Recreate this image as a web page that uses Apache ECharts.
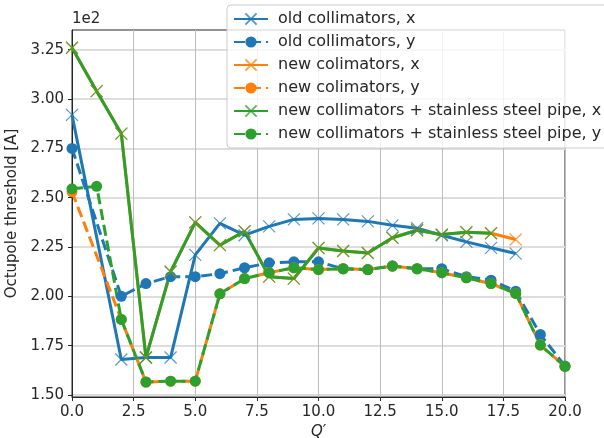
<!DOCTYPE html>
<html>
<head>
<meta charset="utf-8">
<script src="https://cdn.jsdelivr.net/npm/echarts@6/dist/echarts.min.js"></script>
<style>
  html, body { margin: 0; padding: 0; background: #fff; }
  #chart { width: 604px; height: 438px; }
</style>
</head>
<body>
<div id="chart"></div>
<script>
// Octupole threshold (units of 1e2 A) versus chromaticity Q'
const qOld = [0, 2, 3, 4, 5, 6, 7, 8, 9, 10, 11, 12, 13, 14, 15, 16, 17, 18];
const oldCollX = [2.92, 1.68, 1.69, 1.69, 2.21, 2.37, 2.31, 2.355, 2.39, 2.395, 2.39, 2.38, 2.36, 2.345, 2.31, 2.276, 2.246, 2.217];

const qOldY = [0, 2, 3, 4, 5, 6, 7, 8, 9, 10, 11, 12, 13, 14, 15, 16, 17, 18, 19, 20];
const oldCollY = [2.75, 2.00, 2.065, 2.10, 2.10, 2.115, 2.145, 2.17, 2.175, 2.175, 2.14, 2.135, 2.155, 2.14, 2.14, 2.10, 2.082, 2.026, 1.807, 1.647];

const qNewX = [0, 1, 2, 3, 4, 5, 6, 7, 8, 9, 10, 11, 12, 13, 14, 15, 16, 17, 18];
const newCollX = [3.26, 3.04, 2.825, 1.69, 2.125, 2.375, 2.26, 2.33, 2.10, 2.09, 2.245, 2.23, 2.22, 2.297, 2.335, 2.313, 2.325, 2.32, 2.288];

const qNewY = [0, 2, 3, 4, 5, 6, 7, 8, 9, 10, 11, 12, 13, 14, 15, 16, 17, 18, 19, 20];
const newCollY = [2.53, 1.883, 1.566, 1.57, 1.57, 2.013, 2.09, 2.12, 2.145, 2.136, 2.14, 2.136, 2.153, 2.14, 2.12, 2.094, 2.065, 2.015, 1.753, 1.645];

const qSteelX = [0, 1, 2, 3, 4, 5, 6, 7, 8, 9, 10, 11, 12, 13, 14, 15, 16, 17];
const steelX = [3.26, 3.04, 2.825, 1.69, 2.125, 2.375, 2.26, 2.33, 2.10, 2.09, 2.245, 2.23, 2.22, 2.297, 2.335, 2.313, 2.325, 2.32];

const qSteelY = [0, 1, 2, 3, 4, 5, 6, 7, 8, 9, 10, 11, 12, 13, 14, 15, 16, 17, 18, 19, 20];
const steelY = [2.545, 2.558, 1.883, 1.566, 1.57, 1.57, 2.013, 2.09, 2.12, 2.145, 2.136, 2.14, 2.136, 2.153, 2.14, 2.12, 2.094, 2.065, 2.015, 1.753, 1.645];

const yTicks = [1.50, 1.75, 2.00, 2.25, 2.50, 2.75, 3.00, 3.25];

const C_BLUE = '#1f77b4', C_ORANGE = '#ff7f0e', C_GREEN = '#2ca02c';
const FONT = 'DejaVu Sans';
const CROSS = 'path://M0,0L10,10M10,0L0,10';

function pairs(xs, ys) { return xs.map((x, i) => [x, ys[i]]); }

function makeSeries(name, xs, ys, color, kind) {
  const isX = kind === 'x';
  return {
    name: name,
    type: 'line',
    data: pairs(xs, ys),
    symbol: isX ? CROSS : 'circle',
    symbolSize: isX ? 12 : 11,
    showAllSymbol: true,
    lineStyle: { color: color, width: 3, type: isX ? 'solid' : [11, 5] },
    itemStyle: isX
      ? { color: color, borderColor: color, borderWidth: 1.2, opacity: 0.75 }
      : { color: color, borderWidth: 0 },
    emphasis: { disabled: true },
    animation: false,
    z: 2
  };
}

const chart = echarts.init(document.getElementById('chart'), null, { renderer: 'canvas' });

chart.setOption({
  backgroundColor: '#ffffff',
  animation: false,
  textStyle: { fontFamily: FONT },
  grid: {
    left: 72, right: 39, top: 30, bottom: 41,
    outerBoundsMode: 'none', containLabel: false,
    show: true, borderColor: '#262626', borderWidth: 1, backgroundColor: 'transparent'
  },
  xAxis: {
    type: 'value', min: 0, max: 20, interval: 2.5,
    name: "Q\u2032", nameLocation: 'middle', nameGap: 28,
    nameTextStyle: { fontFamily: FONT, fontSize: 15, fontStyle: 'italic', color: '#262626' },
    axisLine: { show: true, lineStyle: { color: '#262626', width: 1 } },
    axisTick: { show: true, length: 4, lineStyle: { color: '#262626' } },
    axisLabel: { fontFamily: FONT, fontSize: 15, color: '#262626', margin: 8,
      formatter: v => v.toFixed(1) },
    splitLine: { show: true, lineStyle: { color: '#bdbdbd', width: 1 } }
  },
  yAxis: {
    type: 'value', min: 1.49, max: 3.35,
    name: 'Octupole threshold [A]', nameLocation: 'middle', nameGap: 42,
    nameTextStyle: { fontFamily: FONT, fontSize: 15, color: '#262626' },
    axisLine: { show: true, lineStyle: { color: '#262626', width: 1 } },
    axisTick: { show: true, length: 4, customValues: yTicks, lineStyle: { color: '#262626' } },
    axisLabel: { fontFamily: FONT, fontSize: 15, color: '#262626', margin: 8,
      customValues: yTicks, formatter: v => v.toFixed(2) },
    splitLine: { show: true, lineStyle: { color: '#dddddd', width: 2 } }
  },
  legend: {
    orient: 'vertical', left: 227, top: 5,
    padding: [6, 10, 6, 6],
    itemWidth: 34, itemHeight: 14, itemGap: 7,
    backgroundColor: 'rgba(255,255,255,0.8)',
    borderColor: '#cccccc', borderWidth: 1, borderRadius: 4,
    textStyle: { fontFamily: FONT, fontSize: 16, color: '#262626', lineHeight: 16,
      padding: [0, 0, 0, 5] },
    selectedMode: false
  },
  graphic: [{
    type: 'text', left: 72, top: 12,
    style: { text: '1e2', fontFamily: FONT, fontSize: 15, fill: '#262626' }
  }],
  series: [
    makeSeries('old collimators, x', qOld, oldCollX, C_BLUE, 'x'),
    makeSeries('old collimators, y', qOldY, oldCollY, C_BLUE, 'y'),
    makeSeries('new colimators, x', qNewX, newCollX, C_ORANGE, 'x'),
    makeSeries('new colimators, y', qNewY, newCollY, C_ORANGE, 'y'),
    makeSeries('new collimators + stainless steel pipe, x', qSteelX, steelX, C_GREEN, 'x'),
    makeSeries('new collimators + stainless steel pipe, y', qSteelY, steelY, C_GREEN, 'y')
  ]
});
</script>
</body>
</html>
